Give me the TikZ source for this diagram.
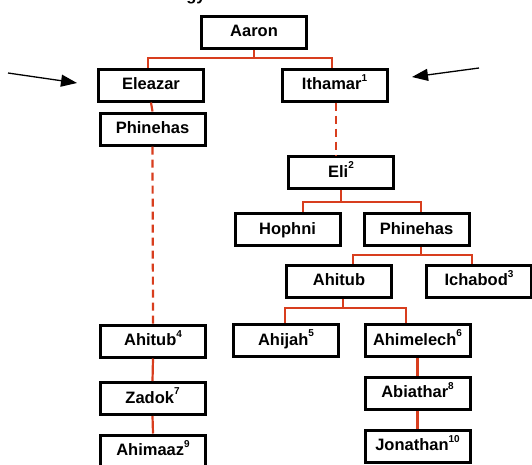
\documentclass[tikz,border=0pt]{standalone}
\usepackage{fontspec}
\setmainfont{Liberation Sans}
\usetikzlibrary{arrows.meta}
\definecolor{conn}{RGB}{216,62,30}
\newcommand{\sps}[1]{\raisebox{0.5em}{\fontsize{10}{10}\selectfont #1}}
\begin{document}
\begin{tikzpicture}[x=1pt,y=-1pt,
  person/.style={draw=black,line width=3pt,fill=white,minimum width=105pt,minimum height=32pt,
    inner sep=0pt,text height=12pt,text depth=3pt,font=\fontsize{16.5}{17}\selectfont\bfseries},
  link/.style={draw=conn,line width=2.2pt},
  dlink/.style={draw=conn,line width=2.2pt,dash pattern=on 8pt off 5pt},
  pointer/.style={draw=black,line width=1.3pt,-{Triangle[length=16pt,width=12pt]}}]
\useasboundingbox (0,0) rectangle (532,464);
% cut-off title
\node[anchor=base,font=\fontsize{16.5}{17}\selectfont\bfseries,inner sep=0pt] (title) at (196,0.5) {gy};
% nodes
\node[person] (aaron) at (254,32) {Aaron};
\node[person] (eleazar) at (151,85) {Eleazar};
\node[person] (ithamar) at (334.5,85) {Ithamar\sps{1}};
\node[person] (phinL) at (152.5,129) {Phinehas};
\node[person] (eli) at (341,172.5) {Eli\sps{2}};
\node[person] (hophni) at (287.5,229.5) {Hophni};
\node[person] (phinR) at (416.5,229.5) {Phinehas};
\node[person] (ahitub) at (339,281) {Ahitub};
\node[person] (ichabod) at (479,281) {Ichabod\sps{3}};
\node[person] (ahitubF) at (153,341) {Ahitub\sps{4}};
\node[person] (zadok) at (152.5,398.5) {Zadok\sps{7}};
\node[person] (ahimaaz) at (153,451) {Ahimaaz\sps{9}};
\node[person] (ahijah) at (286,340.5) {Ahijah\sps{5}};
\node[person] (ahimelech) at (417.5,340.5) {Ahimelech\sps{6}};
\node[person] (abiathar) at (417.5,393) {Abiathar\sps{8}};
\node[person] (jonathan) at (417.5,446) {Jonathan\sps{10}};
% bus coordinates
\coordinate (a1) at (148,58);
\coordinate (a2) at (332,58);
\coordinate (e1) at (303,202);
\coordinate (e2) at (421,202);
\coordinate (p1) at (353,255);
\coordinate (p2) at (472,255);
\coordinate (t0) at (343,0);
\coordinate (t1) at (285,308);
\coordinate (t2) at (406,308);
\coordinate (dx) at (336,0);
% connectors
\draw[link] (aaron.south) -- (aaron.south |- a1);
\draw[link] (eleazar.north -| a1) -- (a1) -- (a2) -- (ithamar.north -| a2);
\draw[link] (eleazar.south) -- (phinL.north);
\draw[dlink] (phinL.south) -- (ahitubF.north);
\draw[dlink] (ithamar.south -| dx) -- (eli.north -| dx);
\draw[link] (eli.south) -- (eli.south |- e1);
\draw[link] (hophni.north -| e1) -- (e1) -- (e2) -- (phinR.north -| e2);
\draw[link] (phinR.south -| e2) -- (e2 |- p1);
\draw[link] (ahitub.north -| p1) -- (p1) -- (p2) -- (ichabod.north -| p2);
\draw[link] (ahitub.south -| t0) -- (t0 |- t1);
\draw[link] (ahijah.north -| t1) -- (t1) -- (t2) -- (ahimelech.north -| t2);
\draw[link] (ahitubF.south) -- (zadok.north);
\draw[link] (zadok.south) -- (ahimaaz.north);
\draw[link] (ahimelech.south) -- (abiathar.north);
\draw[link] (abiathar.south) -- (jonathan.north);
% pointers
\coordinate (lA) at (8,73);
\coordinate (lB) at (77,83);
\coordinate (rA) at (479,68);
\coordinate (rB) at (412,77);
\draw[pointer] (lA) -- (lB);
\draw[pointer] (rA) -- (rB);
\end{tikzpicture}
\end{document}
